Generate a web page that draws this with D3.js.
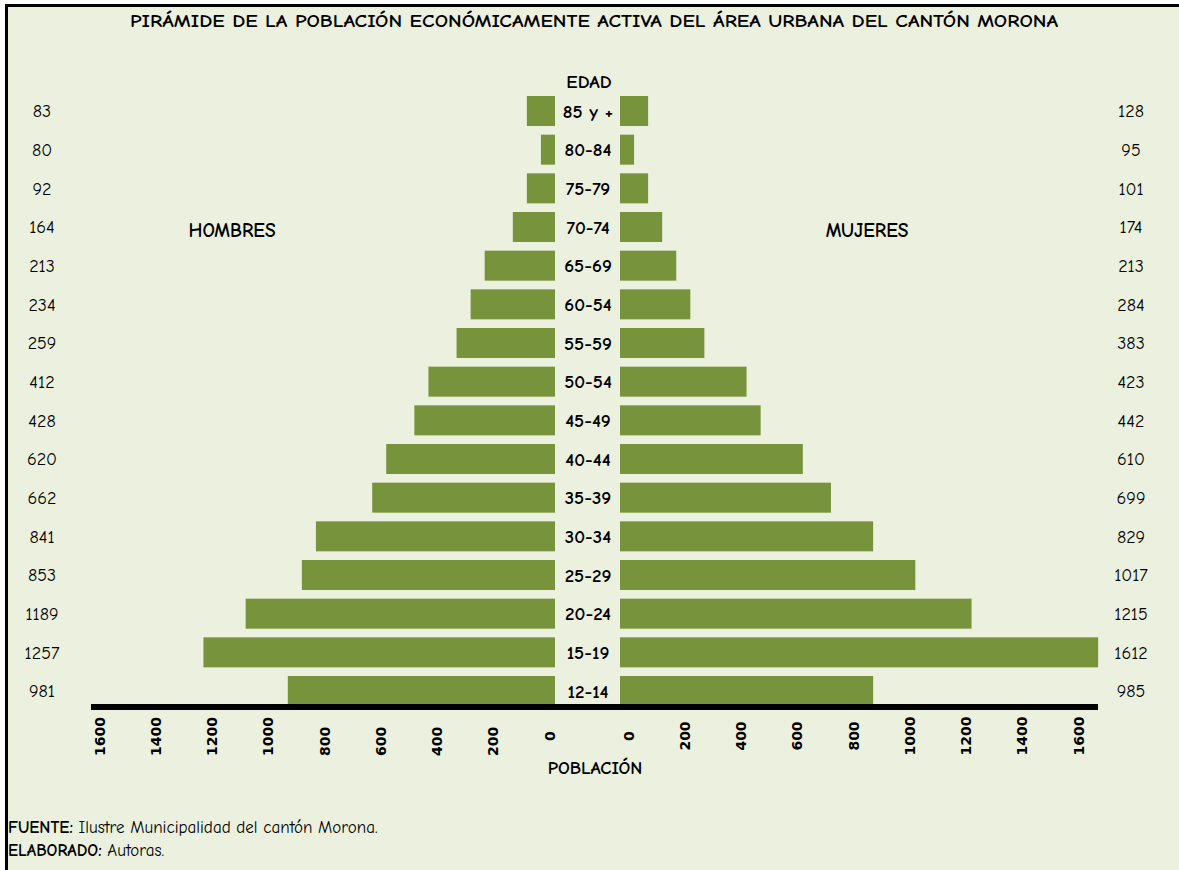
<!DOCTYPE html>
<meta charset="utf-8">
<script src="https://d3js.org/d3.v7.min.js"></script>
<style>
  body { margin: 0; background: #fff; }
  text { font-family: "Comic Sans MS", "Comic Neue", "DejaVu Sans", sans-serif; fill: #000; }
</style>
<div id="my_dataviz"></div>
<script>

// age groups, top to bottom (as printed)
var ages = ["85 y +", "80-84", "75-79", "70-74", "65-69", "60-54", "55-59", "50-54",
            "45-49", "40-44", "35-39", "30-34", "25-29", "20-24", "15-19", "12-14"];

// printed figures beside each row
var hombresLabel = [83, 80, 92, 164, 213, 234, 259, 412, 428, 620, 662, 841, 853, 1189, 1257, 981];
var mujeresLabel = [128, 95, 101, 174, 213, 284, 383, 423, 442, 610, 699, 829, 1017, 1215, 1612, 985];

// bar lengths as drawn in the chart
var hombresBar = [100, 50, 100, 150, 250, 300, 350, 450, 500, 600, 650, 850, 900, 1100, 1250, 950];
var mujeresBar = [100, 50, 100, 150, 200, 250, 300, 450, 500, 650, 750, 900, 1050, 1250, 1700, 900];

var ticks = [0, 200, 400, 600, 800, 1000, 1200, 1400, 1600];

var width = 1179, height = 870;
var barColor = "#77933C";

var svg = d3.select("#my_dataviz")
  .append("svg")
  .attr("width", width)
  .attr("height", height);

// panel background + black top/left edge
svg.append("rect")
  .attr("x", 5).attr("y", 4)
  .attr("width", width - 5).attr("height", height - 4)
  .attr("fill", "#EBF1DE");
svg.append("line").attr("x1", 5).attr("x2", width).attr("y1", 5.5).attr("y2", 5.5)
  .attr("stroke", "#000").attr("stroke-width", 3);
svg.append("line").attr("x1", 6.5).attr("x2", 6.5).attr("y1", 4).attr("y2", height)
  .attr("stroke", "#000").attr("stroke-width", 3);

var y = d3.scaleBand()
  .domain(ages)
  .range([96, 706])
  .paddingInner(0.224)
  .paddingOuter(0);

var xLeft = d3.scaleLinear().domain([0, 1600]).range([555, 105]);
var xRight = d3.scaleLinear().domain([0, 1600]).range([620, 1070]);

var rows = ages.map((a, i) => ({age: a, h: hombresBar[i], m: mujeresBar[i], hl: hombresLabel[i], ml: mujeresLabel[i]}));

// bars
svg.selectAll(".barH")
  .data(rows)
  .enter().append("rect")
  .attr("class", "barH")
  .attr("x", d => xLeft(d.h))
  .attr("y", d => y(d.age))
  .attr("width", d => xLeft(0) - xLeft(d.h))
  .attr("height", y.bandwidth())
  .attr("fill", barColor);

svg.selectAll(".barM")
  .data(rows)
  .enter().append("rect")
  .attr("class", "barM")
  .attr("x", xRight(0))
  .attr("y", d => y(d.age))
  .attr("width", d => xRight(d.m) - xRight(0))
  .attr("height", y.bandwidth())
  .attr("fill", barColor);

// age labels in the middle
svg.selectAll(".age")
  .data(rows)
  .enter().append("text")
  .attr("x", 588)
  .attr("y", d => y(d.age) + y.bandwidth() / 2)
  .attr("dy", "0.35em")
  .attr("text-anchor", "middle")
  .style("font-size", "19px")
  .style("font-weight", "bold")
  .text(d => d.age);

// printed values
svg.selectAll(".valH")
  .data(rows)
  .enter().append("text")
  .attr("x", 42)
  .attr("y", d => y(d.age) + y.bandwidth() / 2)
  .attr("dy", "0.35em")
  .attr("text-anchor", "middle")
  .style("font-size", "18px")
  .text(d => d.hl);

svg.selectAll(".valM")
  .data(rows)
  .enter().append("text")
  .attr("x", 1131)
  .attr("y", d => y(d.age) + y.bandwidth() / 2)
  .attr("dy", "0.35em")
  .attr("text-anchor", "middle")
  .style("font-size", "18px")
  .text(d => d.ml);

// axes
var axisY = 707;
function styleAxis(g, off, leftSide) {
  g.select(".domain").remove();
  g.selectAll(".tick line").remove();
  g.selectAll(".tick text")
    .attr("transform", "rotate(-90)")
    .attr("text-anchor", d => (leftSide && d > 0) ? "start" : "middle")
    .attr("x", d => (leftSide && d > 0) ? -(756 - axisY) : -(736 - axisY))
    .attr("y", off)
    .attr("dy", 0)
    .style("font-size", "14px")
    .style("font-weight", "bold")
    .style("font-family", "\"DejaVu Sans\", sans-serif");
}
svg.append("g")
  .attr("transform", "translate(0," + axisY + ")")
  .call(d3.axisBottom(xLeft).tickValues(ticks).tickFormat(d3.format("d")))
  .call(g => styleAxis(g, -1, true));
svg.append("g")
  .attr("transform", "translate(0," + axisY + ")")
  .call(d3.axisBottom(xRight).tickValues(ticks).tickFormat(d3.format("d")))
  .call(g => styleAxis(g, 13, false));

svg.append("line")
  .attr("x1", 91).attr("x2", 1098)
  .attr("y1", axisY).attr("y2", axisY)
  .attr("stroke", "#000").attr("stroke-width", 6);

// titles
svg.append("text")
  .attr("x", 594).attr("y", 20)
  .attr("dy", "0.35em")
  .attr("text-anchor", "middle")
  .attr("textLength", 928)
  .attr("lengthAdjust", "spacingAndGlyphs")
  .style("font-size", "19px")
  .style("font-weight", "bold")
  .text("PIRÁMIDE DE LA POBLACIÓN ECONÓMICAMENTE ACTIVA DEL ÁREA URBANA DEL CANTÓN MORONA");

svg.append("text")
  .attr("x", 589).attr("y", 81).attr("dy", "0.35em")
  .attr("text-anchor", "middle")
  .style("font-size", "19px").style("font-weight", "bold")
  .text("EDAD");

svg.append("text")
  .attr("x", 232).attr("y", 230).attr("dy", "0.35em")
  .attr("text-anchor", "middle")
  .style("font-size", "19.5px").style("font-weight", "bold")
  .text("HOMBRES");

svg.append("text")
  .attr("x", 867).attr("y", 230).attr("dy", "0.35em")
  .attr("text-anchor", "middle")
  .style("font-size", "19.5px").style("font-weight", "bold")
  .text("MUJERES");

svg.append("text")
  .attr("x", 595).attr("y", 768).attr("dy", "0.35em")
  .attr("text-anchor", "middle")
  .style("font-size", "18.5px").style("font-weight", "bold")
  .text("POBLACIÓN");

// source notes
var f1 = svg.append("text").attr("x", 8).attr("y", 833).style("font-size", "17px");
f1.append("tspan").style("font-weight", "bold").text("FUENTE:");
f1.append("tspan").text(" Ilustre Municipalidad del cantón Morona.");

var f2 = svg.append("text").attr("x", 8).attr("y", 856).style("font-size", "17px");
f2.append("tspan").style("font-weight", "bold").text("ELABORADO:");
f2.append("tspan").text(" Autoras.");

</script>
